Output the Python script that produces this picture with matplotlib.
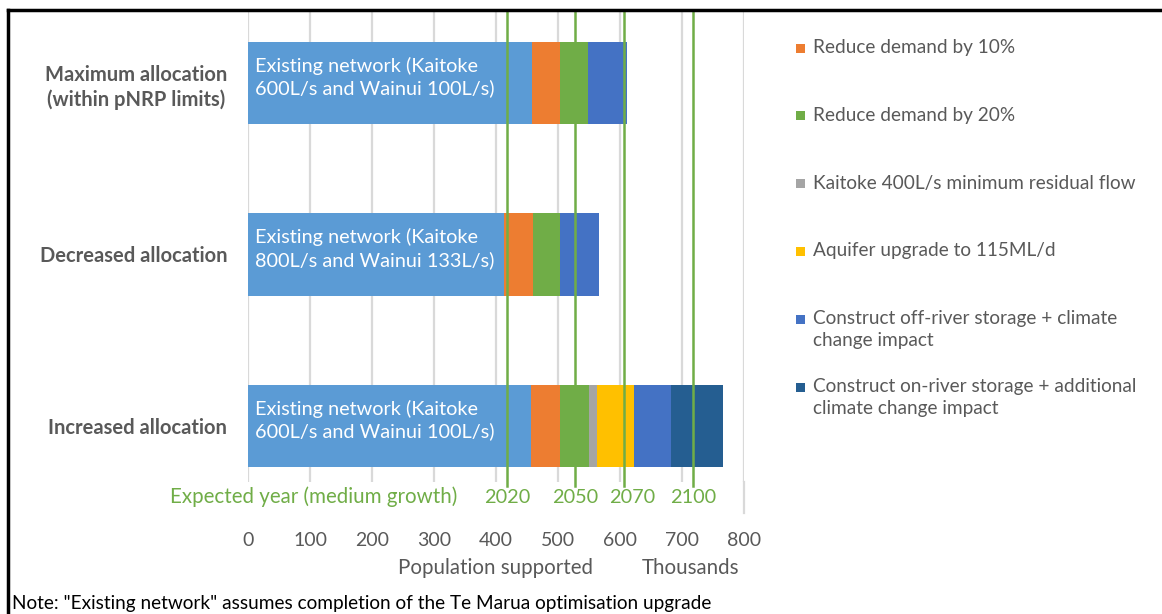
import matplotlib
matplotlib.use("Agg")
import matplotlib.pyplot as plt
from matplotlib.lines import Line2D
from matplotlib.patches import Rectangle

plt.rcParams['font.family'] = ['Lato', 'DejaVu Sans']

# ---------------- data ----------------
categories = ["Maximum allocation\n(within pNRP limits)", "Decreased allocation", "Increased allocation"]
bar_labels = ["Existing network (Kaitoke\n600L/s and Wainui 100L/s)",
              "Existing network (Kaitoke\n800L/s and Wainui 133L/s)",
              "Existing network (Kaitoke\n600L/s and Wainui 100L/s)"]
series_names = ["Existing network",
                "Reduce demand by 10%",
                "Reduce demand by 20%",
                "Kaitoke 400L/s minimum residual flow",
                "Aquifer upgrade to 115ML/d",
                "Construct off-river storage + climate\nchange impact",
                "Construct on-river storage + additional\nclimate change impact"]
existing      = [458, 413, 457]
reduce10      = [46, 46, 47]
reduce20      = [44, 44, 46]
residual_flow = [0, 0, 13]
aquifer       = [0, 0, 60]
off_river     = [64, 63, 60]
on_river      = [0, 0, 83]
series_values = [existing, reduce10, reduce20, residual_flow, aquifer, off_river, on_river]
colors = ["#5b9bd5", "#ed7d31", "#70ad47", "#a5a5a5", "#ffc000", "#4472c4", "#255e91"]

year_labels = ["2020", "2050", "2070", "2100"]
year_population = [418, 528, 607, 718]
x_ticks = [0, 100, 200, 300, 400, 500, 600, 700, 800]

# ---------------- figure ----------------
W, H = 1162, 614
fig = plt.figure(figsize=(W / 100, H / 100), dpi=100)
fig.patch.set_facecolor("white")

def fx(px):
    return px / W

def fy(py):
    return 1 - py / H

ax = fig.add_axes([fx(248), fy(482), fx(744) - fx(248), fy(11) - fy(482)])
ax.set_xlim(0, 800)
ax.set_ylim(2.327, -0.42)
for s in ax.spines.values():
    s.set_visible(False)

grey_txt = "#595959"
green = "#70ad47"

ax.set_xticks(x_ticks)
ax.set_xticklabels([str(t) for t in x_ticks])
ax.grid(axis="x", color="#d9d9d9", linewidth=1.6)
ax.set_axisbelow(True)
ax.tick_params(axis="x", length=0, pad=36, labelsize=14, labelcolor=grey_txt)

ax.set_yticks(range(len(categories)))
ax.set_yticklabels(categories)
ax.tick_params(axis="y", length=0, pad=15, labelsize=14.5, labelcolor=grey_txt)
for lbl in ax.get_yticklabels():
    lbl.set_fontweight("bold")
    lbl.set_multialignment("center")
    lbl.set_linespacing(1.3)

ypos = list(range(len(categories)))
left = [0] * len(categories)
for vals, col in zip(series_values, colors):
    ax.barh(ypos, vals, left=left, height=0.48, color=col, zorder=2)
    left = [l + v for l, v in zip(left, vals)]

for y, txt in zip(ypos, bar_labels):
    ax.text(12, y - 0.035, txt, color="white", fontsize=14.3, va="center", ha="left",
            linespacing=1.3, zorder=4)

# extended 800 gridline
ax.axvline(800, ymin=-0.065, ymax=0, color="#d9d9d9", lw=1.6, clip_on=False)

# year lines + labels
for xv, lab in zip(year_population, year_labels):
    ax.axvline(xv, ymin=-0.008, ymax=1, color=green, lw=1.8, zorder=5, clip_on=False)
    off = 12 if lab == "2070" else 0
    ax.text(xv + off, -0.032, lab, transform=ax.get_xaxis_transform(), color=green,
            fontsize=14.3, ha="center", va="center")

fig.text(fx(457), fy(497), "Expected year (medium growth)", color=green, fontsize=14.8,
         ha="right", va="center")
fig.text(fx(495), fy(568), "Population supported", color=grey_txt, fontsize=14.8,
         ha="center", va="center")
fig.text(fx(690), fy(568), "Thousands", color=grey_txt, fontsize=14.8,
         ha="center", va="center")
fig.text(fx(12), fy(612), 'Note: "Existing network" assumes completion of the Te Marua optimisation upgrade',
         color="black", fontsize=13.7, ha="left", va="bottom")

# legend (manual, excluding the first series)
for i, (name, col) in enumerate(zip(series_names[1:], colors[1:])):
    yc = 48 + i * 67.8
    fig.add_artist(Rectangle((fx(796), fy(yc + 4.5)), fx(9), 9 / H, transform=fig.transFigure,
                             facecolor=col, edgecolor="none"))
    fig.text(fx(813), fy(yc - 9), name, color=grey_txt, fontsize=13.7, ha="left", va="top",
             linespacing=1.35)

# border
fig.add_artist(Line2D([fx(8), 1], [fy(10), fy(10)], color="black", lw=2.5, transform=fig.transFigure))
fig.add_artist(Line2D([fx(8), fx(8)], [0, fy(10)], color="black", lw=2.5, transform=fig.transFigure))

fig.savefig("out.png", dpi=100)
